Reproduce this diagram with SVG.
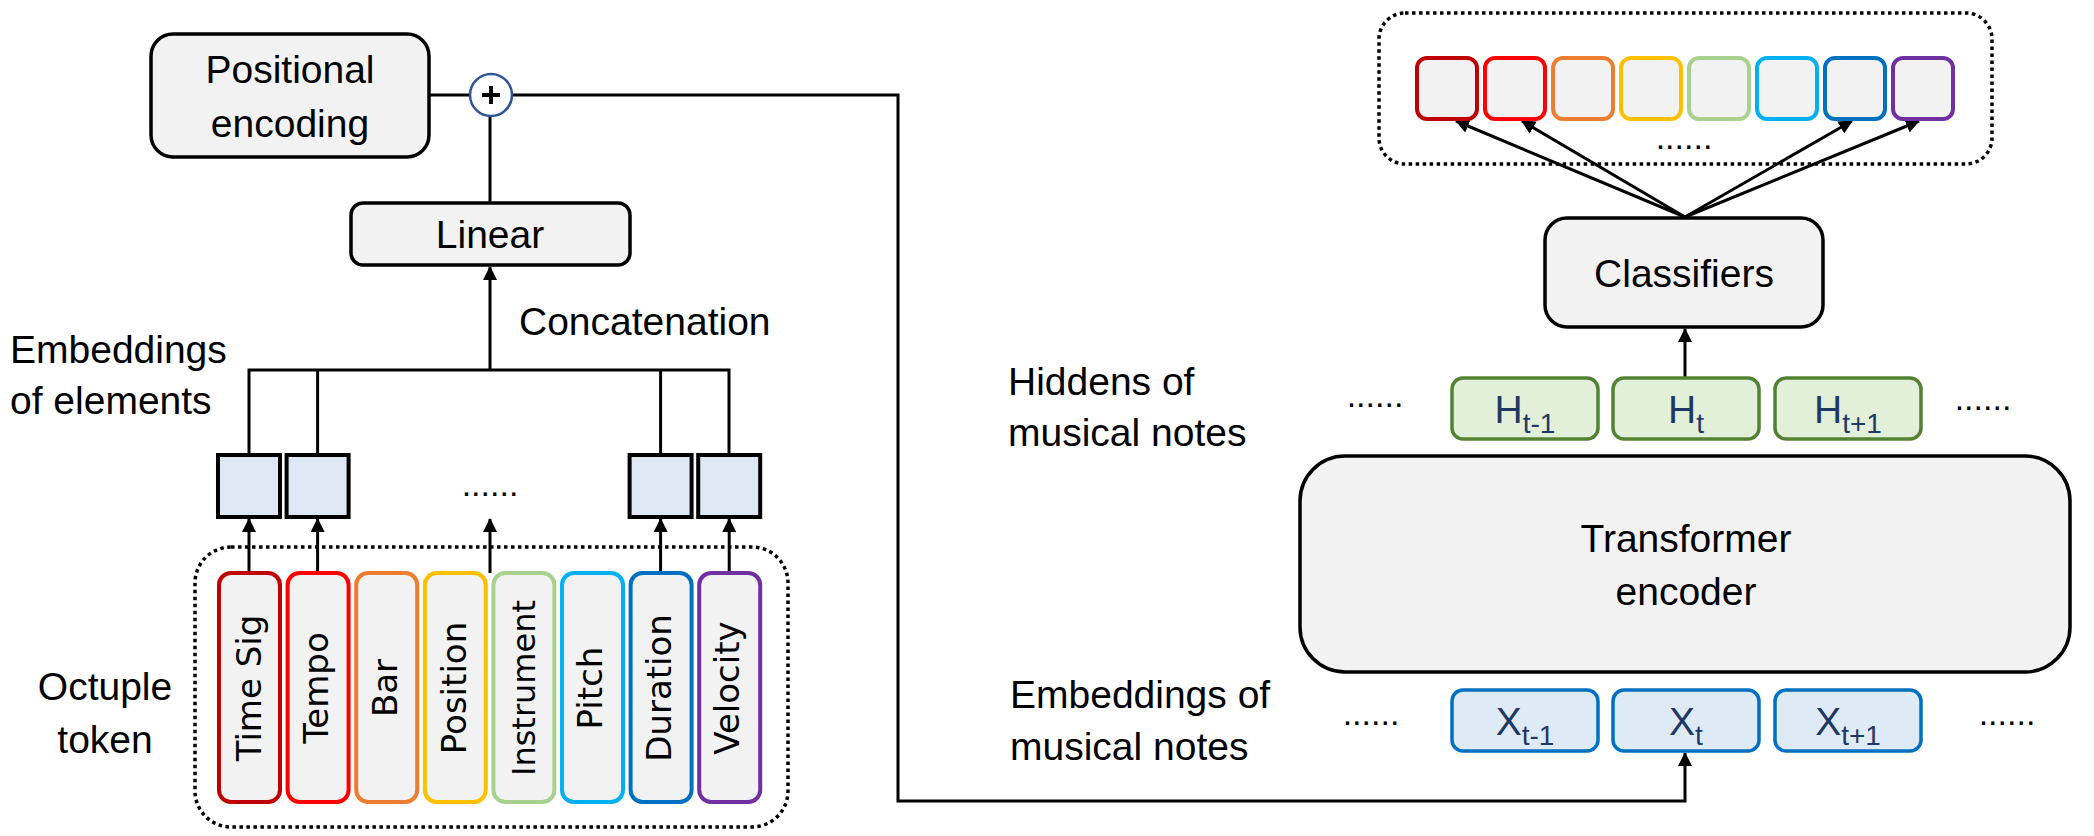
<svg xmlns="http://www.w3.org/2000/svg" width="2094" height="836" viewBox="0 0 2094 836">
<style>
text{font-family:"Liberation Sans",Arial,sans-serif;fill:#000}
.lbl{font-size:39px}
.mid{text-anchor:middle}
.tok{font-family:"DejaVu Sans",Verdana,sans-serif;font-size:34px;text-anchor:middle}
.gray{fill:#F2F2F2;stroke:#000;stroke-width:3.5}
.emb{fill:#DEE8F4;stroke:#000;stroke-width:4}
.t{fill:#F2F2F2;stroke-width:4}
.hid{fill:#E2F0D9;stroke:#548235;stroke-width:3.5}
.xe{fill:#DEEBF7;stroke:#0070C0;stroke-width:3.5}
.dot{fill:none;stroke:#000;stroke-width:3.5;stroke-dasharray:3.5 3.5}
.sub{fill:#1F3864;font-size:39px;text-anchor:middle}
.conn line,.conn polyline{stroke:#000;stroke-width:3;fill:none}
.dots{font-size:34px;text-anchor:middle}
</style>
<defs>
<marker id="ah" markerUnits="userSpaceOnUse" markerWidth="14" markerHeight="14" viewBox="0 0 14 14" refX="13" refY="7" orient="auto">
<path d="M0,0 L14,7 L0,14 z" fill="#000"/>
</marker>
</defs>

<g class="conn">
<line x1="430" y1="95" x2="470" y2="95"/>
<line x1="490" y1="117" x2="490" y2="203"/>
<polyline points="513,95 898,95 898,801 1685,801 1685,753" marker-end="url(#ah)"/>
<polyline points="249,454 249,370 729,370 729,454"/>
<line x1="317.6" y1="370" x2="317.6" y2="454"/>
<line x1="660.6" y1="370" x2="660.6" y2="454"/>
<line x1="490" y1="370" x2="490" y2="267" marker-end="url(#ah)"/>
<line x1="249" y1="573" x2="249" y2="519" marker-end="url(#ah)"/>
<line x1="317.6" y1="573" x2="317.6" y2="519" marker-end="url(#ah)"/>
<line x1="490" y1="573" x2="490" y2="519" marker-end="url(#ah)"/>
<line x1="660.6" y1="573" x2="660.6" y2="519" marker-end="url(#ah)"/>
<line x1="729.2" y1="573" x2="729.2" y2="519" marker-end="url(#ah)"/>
<line x1="1685" y1="377" x2="1685" y2="329" marker-end="url(#ah)"/>
<line x1="1685" y1="217" x2="1456" y2="121" marker-end="url(#ah)"/>
<line x1="1685" y1="217" x2="1522" y2="121" marker-end="url(#ah)"/>
<line x1="1685" y1="217" x2="1852" y2="121" marker-end="url(#ah)"/>
<line x1="1685" y1="217" x2="1919" y2="121" marker-end="url(#ah)"/>
</g>

<g id="positional-encoding">
<rect class="gray" x="151" y="34" width="278" height="123" rx="22"/>
<text class="lbl mid" x="290" y="83">Positional</text>
<text class="lbl mid" x="290" y="137">encoding</text>
</g>

<g id="plus">
<circle cx="491" cy="95" r="21" fill="#fff" stroke="#2F5597" stroke-width="2.5"/>
<path d="M482,95 H500 M491,86 V104" stroke="#000" stroke-width="4"/>
</g>

<g id="linear">
<rect class="gray" x="351" y="203" width="279" height="62" rx="12"/>
<text class="lbl mid" x="490" y="248">Linear</text>
</g>

<g id="concat-label">
<text class="lbl" x="519" y="335">Concatenation</text>
</g>

<g id="emb-label">
<text class="lbl" x="10" y="363">Embeddings</text>
<text class="lbl" x="10" y="414">of elements</text>
</g>

<g id="element-embeddings">
<rect class="emb" x="218" y="455" width="62" height="62"/>
<rect class="emb" x="286.6" y="455" width="62" height="62"/>
<rect class="emb" x="629.6" y="455" width="62" height="62"/>
<rect class="emb" x="698.2" y="455" width="62" height="62"/>
<text class="dots" x="490" y="496">......</text>
</g>

<g id="octuple-label">
<text class="lbl mid" x="105" y="700">Octuple</text>
<text class="lbl mid" x="105" y="753">token</text>
</g>

<g id="octuple-token">
<rect class="dot" x="195" y="547" width="593" height="280" rx="36"/>
<rect class="t" x="219" y="573" width="61" height="229" rx="12" stroke="#C00000"/>
<rect class="t" x="287.6" y="573" width="61" height="229" rx="12" stroke="#FF0000"/>
<rect class="t" x="356.2" y="573" width="61" height="229" rx="12" stroke="#ED7D31"/>
<rect class="t" x="424.8" y="573" width="61" height="229" rx="12" stroke="#FFC000"/>
<rect class="t" x="493.4" y="573" width="61" height="229" rx="12" stroke="#A9D18E"/>
<rect class="t" x="562" y="573" width="61" height="229" rx="12" stroke="#00B0F0"/>
<rect class="t" x="630.6" y="573" width="61" height="229" rx="12" stroke="#0070C0"/>
<rect class="t" x="699.2" y="573" width="61" height="229" rx="12" stroke="#7030A0"/>
<text class="tok" transform="translate(261,688) rotate(-90)">Time Sig</text>
<text class="tok" transform="translate(328,688) rotate(-90)">Tempo</text>
<text class="tok" transform="translate(397,688) rotate(-90)">Bar</text>
<text class="tok" transform="translate(466,688) rotate(-90)">Position</text>
<text class="tok" transform="translate(535,688) rotate(-90)" style="font-size:32px">Instrument</text>
<text class="tok" transform="translate(602,688) rotate(-90)">Pitch</text>
<text class="tok" transform="translate(671,688) rotate(-90)">Duration</text>
<text class="tok" transform="translate(739,688) rotate(-90)">Velocity</text>
</g>

<g id="outputs">
<rect class="dot" x="1379" y="13" width="613" height="151" rx="26"/>
<rect class="t" x="1417" y="58" width="60" height="61" rx="10" stroke="#C00000"/>
<rect class="t" x="1485" y="58" width="60" height="61" rx="10" stroke="#FF0000"/>
<rect class="t" x="1553" y="58" width="60" height="61" rx="10" stroke="#ED7D31"/>
<rect class="t" x="1621" y="58" width="60" height="61" rx="10" stroke="#FFC000"/>
<rect class="t" x="1689" y="58" width="60" height="61" rx="10" stroke="#A9D18E"/>
<rect class="t" x="1757" y="58" width="60" height="61" rx="10" stroke="#00B0F0"/>
<rect class="t" x="1825" y="58" width="60" height="61" rx="10" stroke="#0070C0"/>
<rect class="t" x="1893" y="58" width="60" height="61" rx="10" stroke="#7030A0"/>
<text class="dots" x="1684" y="149">......</text>
</g>

<g id="classifiers">
<rect class="gray" x="1545" y="218" width="278" height="109" rx="22"/>
<text class="lbl mid" x="1684" y="287">Classifiers</text>
</g>

<g id="hiddens-label">
<text class="lbl" x="1008" y="395">Hiddens of</text>
<text class="lbl" x="1008" y="446">musical notes</text>
</g>

<g id="hiddens">
<text class="dots" x="1375" y="407">......</text>
<rect class="hid" x="1452" y="378" width="146" height="61" rx="11"/>
<rect class="hid" x="1613" y="378" width="146" height="61" rx="11"/>
<rect class="hid" x="1775" y="378" width="146" height="61" rx="11"/>
<text class="sub" x="1525" y="423">H<tspan dy="10" font-size="28">t-1</tspan></text>
<text class="sub" x="1686" y="423">H<tspan dy="10" font-size="28">t</tspan></text>
<text class="sub" x="1848" y="423">H<tspan dy="10" font-size="28">t+1</tspan></text>
<text class="dots" x="1983" y="410">......</text>
</g>

<g id="transformer">
<rect class="gray" x="1300" y="456" width="770" height="216" rx="45"/>
<text class="lbl mid" x="1686" y="552">Transformer</text>
<text class="lbl mid" x="1686" y="605">encoder</text>
</g>

<g id="embeddings-label">
<text class="lbl" x="1010" y="708">Embeddings of</text>
<text class="lbl" x="1010" y="760">musical notes</text>
</g>

<g id="note-embeddings">
<text class="dots" x="1371" y="725">......</text>
<rect class="xe" x="1452" y="690" width="146" height="61" rx="11"/>
<rect class="xe" x="1613" y="690" width="146" height="61" rx="11"/>
<rect class="xe" x="1775" y="690" width="146" height="61" rx="11"/>
<text class="sub" x="1525" y="735">X<tspan dy="10" font-size="28">t-1</tspan></text>
<text class="sub" x="1686" y="735">X<tspan dy="10" font-size="28">t</tspan></text>
<text class="sub" x="1848" y="735">X<tspan dy="10" font-size="28">t+1</tspan></text>
<text class="dots" x="2007" y="725">......</text>
</g>
</svg>
